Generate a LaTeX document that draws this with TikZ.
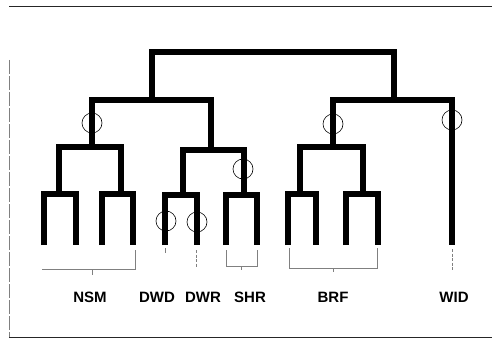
\documentclass[tikz,border=0pt]{standalone}
\usepackage{fontspec}
\setmainfont{Liberation Sans}
\begin{document}
\begin{tikzpicture}[x=1pt,y=-1pt,
  tree/.style={line width=5.2pt, line join=miter},
  ring/.style={draw, circle, minimum size=20pt, inner sep=0pt, line width=0.6pt},
  faint/.style={line width=0.6pt, black!50},
  frame/.style={line width=0.9pt, black!85},
  lab/.style={font=\bfseries\fontsize{15}{17}\selectfont, anchor=base, inner sep=0pt}
]
\useasboundingbox (0,0) rectangle (492,339);
% frame
\coordinate (ftl) at (9,6);
\coordinate (ftr) at (492,6);
\coordinate (fl) at (9,60);
\coordinate (fbl) at (9,337);
\coordinate (fbr) at (492,337);
\draw[frame] (ftl) -- (ftr);
\draw[frame] (fbl) -- (fbr);
\draw[faint, dash pattern=on 14pt off 2pt] (fl) -- (fbl);
% leaves
\coordinate (l1) at (44,245);
\coordinate (l2) at (76,245);
\coordinate (l3) at (102,245);
\coordinate (l4) at (133,245);
\coordinate (l5) at (165,245);
\coordinate (l6) at (197,245);
\coordinate (l7) at (226,245);
\coordinate (l8) at (257,245);
\coordinate (l9) at (288,245);
\coordinate (l10) at (316,245);
\coordinate (l11) at (346,245);
\coordinate (l12) at (378,245);
\coordinate (l13) at (452,245);
% brackets
\coordinate (b1) at (59,194);
\coordinate (b2) at (121,194);
\coordinate (b3) at (183,195);
\coordinate (b4) at (244,195);
\coordinate (b5) at (300,194);
\coordinate (b6) at (363,194);
% inner junctions
\coordinate (nsm) at (92,147);
\coordinate (ds) at (211,150);
\coordinate (brf) at (333,147);
\coordinate (left) at (152,100);
\coordinate (right) at (394,100);
\coordinate (root) at (273,52);
% draw tree
\draw[tree] (l1) |- (b1) -| (l2);
\draw[tree] (l3) |- (b2) -| (l4);
\draw[tree] (l5) |- (b3) -| (l6);
\draw[tree] (l7) |- (b4) -| (l8);
\draw[tree] (l9) |- (b5) -| (l10);
\draw[tree] (l11) |- (b6) -| (l12);
\draw[tree] (b1) |- (nsm) -| (b2);
\draw[tree] (b3) |- (ds) -| (b4);
\draw[tree] (b5) |- (brf) -| (b6);
\draw[tree] (nsm) |- (left) -| (ds);
\draw[tree] (brf) |- (right) -| (l13);
\draw[tree] (left) |- (root) -| (right);
% rings
\node[ring] (r1) at (92,123) {};
\node[ring] (r2) at (243,169) {};
\node[ring] (r3) at (166,221) {};
\node[ring] (r4) at (197,222) {};
\node[ring] (r5) at (333,124) {};
\node[ring] (r6) at (452,120) {};
% faint lines below leaves
\coordinate (n1) at (42,269);
\coordinate (n2) at (135,269);
\coordinate (n2t) at (135,250);
\coordinate (n3) at (92,269);
\coordinate (n3b) at (92,275);
\draw[faint] (n2t) -- (n2) -- (n1);
\draw[faint] (n3) -- (n3b);
\coordinate (d1) at (165,248);
\coordinate (d1b) at (165,253);
\draw[faint] (d1) -- (d1b);
\coordinate (d2) at (196,250);
\coordinate (d2b) at (196,268);
\draw[faint, dash pattern=on 3pt off 1.5pt] (d2) -- (d2b);
\coordinate (s1) at (226,250);
\coordinate (s1b) at (226,266);
\coordinate (s2) at (257,250);
\coordinate (s2b) at (257,266);
\coordinate (s3) at (241,266);
\coordinate (s3b) at (241,270);
\draw[faint] (s1) -- (s1b) -- (s2b) -- (s2);
\draw[faint] (s3) -- (s3b);
\coordinate (f1) at (289,248);
\coordinate (f1b) at (289,268);
\coordinate (f2) at (377,248);
\coordinate (f2b) at (377,268);
\coordinate (f3) at (333,268);
\coordinate (f3b) at (333,272);
\draw[faint] (f1) -- (f1b) -- (f2b) -- (f2);
\draw[faint] (f3) -- (f3b);
\coordinate (w1) at (452,249);
\coordinate (w1b) at (452,270);
\draw[faint, dash pattern=on 3pt off 1.5pt] (w1) -- (w1b);
% labels
\node[lab] (tnsm) at (90,302) {NSM};
\node[lab] (tdwd) at (157,302) {DWD};
\node[lab] (tdwr) at (203,302) {DWR};
\node[lab] (tshr) at (250,302) {SHR};
\node[lab] (tbrf) at (333,302) {BRF};
\node[lab] (twid) at (454,302) {WID};
\end{tikzpicture}
\end{document}
